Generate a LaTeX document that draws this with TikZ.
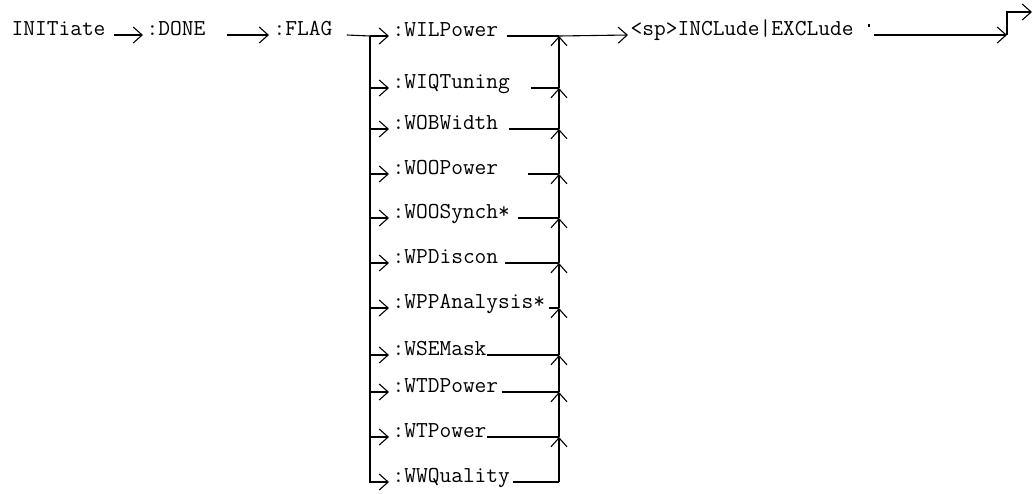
\documentclass[tikz,border=0pt]{standalone}
\usepackage{fontspec}
\usetikzlibrary{arrows.meta}

\begin{document}
\begin{tikzpicture}[x=0.5pt, y=-0.5pt,
        cmd/.style={font=\ttfamily\fontsize{11.4}{13}\selectfont, inner sep=0pt, anchor=base west},
        arr/.style={-{Straight Barb[length=4.5pt,width=8pt]}},
        every path/.style={line width=0.55pt}]

    \useasboundingbox (0,0) rectangle (1033,493);

    \node[cmd] (init) at (11,35) {INITiate};
    \node[cmd] (done) at (146,35) {:DONE};
    \node[cmd] (flag) at (273,35) {:FLAG};
    \node[cmd] (wil) at (392,36) {:WILPower};
    \node[cmd] (incl) at (630,35) {<sp>INCLude|EXCLude};

    \coordinate (split) at (370,36);
    \coordinate (mwil) at (559,36);
    \coordinate (turn) at (1007,35);
    \coordinate (exit) at (1032,12);

    \draw[arr] ([xshift=4pt]init.base east) -- ([xshift=-1.5pt]done.base west);
    \draw[arr] ([xshift=10.5pt]done.base east) -- ([xshift=-2pt]flag.base west);
    \draw ([xshift=7pt]flag.base east) -- (split);
    \draw[arr] (split) -- ([xshift=-1.5pt]wil.base west);
    \draw ([xshift=4pt]wil.base east) -- (mwil);
    \draw[arr] (mwil) -- ([xshift=-1pt]incl.base west);
    \draw[arr] ([xshift=10pt]incl.base east) -- (turn);
    \draw[arr] (turn) |- (exit);
    \draw (869,24) -- (869,27);

    % options below :FLAG, joined again on the right
    \foreach \n/\t/\y/\g [remember=\n as \prev (initially wil)] in {
            wiq/:WIQTuning/88/10, wob/:WOBWidth/129/5, wop/:WOOPower/174/14.5,
            wos/:WOOSynch*/218/3.5, wpd/:WPDiscon/263/3, wpa/:WPPAnalysis*/308/1.5,
            wsm/:WSEMask/355/0, wtd/:WTDPower/392/1.5, wtp/:WTPower/437/0,
            wwq/:WWQuality/482/1} {
        \node[cmd] (\n) at (392,\y) {\t};
        \coordinate (m\n) at (559,\y);
        \draw[arr] (split) |- ([xshift=-1.5pt]\n.base west);
        \draw ([xshift=\g pt]\n.base east) -- (m\n);
        \draw[arr] (m\n) -- (m\prev);
    }

\end{tikzpicture}
\end{document}
